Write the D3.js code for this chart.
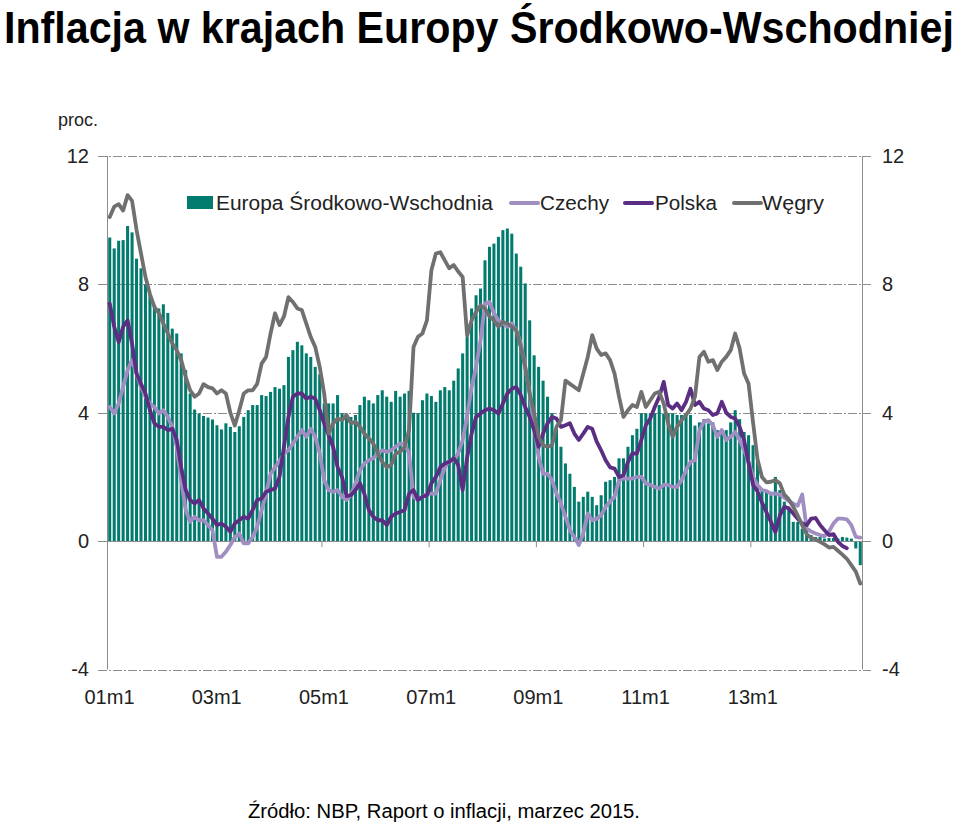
<!DOCTYPE html>
<html><head><meta charset="utf-8">
<script src="https://cdn.jsdelivr.net/npm/d3@7"></script>
<style>body{margin:0;background:#fff;}svg{display:block;}</style>
</head><body>
<svg id="c" width="960" height="822"></svg>
<script>
// ---- DATA (monthly, 2001m1 .. 2015m1) ----
const startYear = 2001;
const nMonths = 169;
const tickLabels = ["01m1","03m1","05m1","07m1","09m1","11m1","13m1"];
const yTicks = [-4, 0, 4, 8, 12];
const seriesNames = ["Europa Środkowo-Wschodnia","Czechy","Polska","Węgry"];

const ceeValues = [
 9.46,9.12,9.36,9.38,9.82,9.62,8.8,8.5,8.0,7.7,7.35,7.25,7.38,7.11,6.62,6.47,5.85,5.33,4.6,4.1,3.98,3.9,3.85,3.79,3.61,3.48,3.67,
 3.56,3.4,3.58,3.87,4.08,4.24,4.24,4.55,4.52,4.65,4.8,4.75,4.86,5.74,5.95,6.21,6.1,5.85,5.74,5.43,5.2,4.29,4.29,4.29,4.55,3.98,3.9,
 3.87,3.93,4.24,4.5,4.39,4.29,4.55,4.7,4.5,4.34,4.68,4.5,4.6,4.68,4.0,3.98,4.39,4.6,4.52,4.34,4.7,4.8,4.7,5.0,5.38,5.85,6.37,
 7.25,7.66,7.87,8.75,9.17,9.27,9.48,9.69,9.74,9.58,8.96,8.55,8.03,6.88,5.79,5.43,5.0,4.5,3.98,3.5,2.94,2.42,2.1,1.69,1.23,1.38,1.54,
 1.38,1.12,1.43,1.85,1.9,2.0,2.58,2.58,2.94,3.3,3.5,3.98,3.98,3.98,3.98,4.24,3.98,3.98,3.98,3.93,3.93,3.98,3.93,3.6,3.7,3.8,3.67,
 3.7,3.46,3.46,3.46,3.7,4.08,3.8,3.4,3.3,2.99,2.52,1.59,1.54,1.43,2.0,1.59,1.23,1.07,0.6,0.6,0.39,0.34,0.19,0.13,0.13,0.08,0.1,0.1,0.08,0.13,0.11,0.08,-0.23,-0.75
];
const czValues = [
 4.18,3.98,4.29,4.8,5.33,5.64,5.22,4.8,4.5,4.29,4.18,3.98,4.08,3.87,3.56,2.94,1.9,0.97,0.6,0.76,0.65,0.65,0.5,0.34,-0.49,-0.49,-0.33,
 -0.12,0.13,0.24,-0.07,-0.07,0.13,0.45,0.97,1.48,2.1,2.3,2.5,2.73,2.83,3.04,3.25,3.46,3.25,3.5,3.25,2.73,1.9,1.59,1.54,1.59,1.38,1.28,
 1.43,1.8,2.21,2.42,2.52,2.58,2.73,2.83,2.78,2.83,2.94,3.04,3.04,2.73,1.38,1.28,1.38,1.48,1.48,1.48,1.9,2.3,2.5,2.5,2.73,3.15,3.9,
 4.8,5.43,6.26,7.4,7.45,7.1,6.88,6.78,6.68,6.78,6.57,6.16,5.43,4.6,3.56,2.63,2.1,2.1,1.9,1.48,1.17,0.76,0.34,0.13,-0.12,0.24,0.86,
 0.65,0.7,0.8,1.07,1.23,1.38,1.9,1.95,1.95,1.95,2.0,2.0,1.8,1.75,1.69,1.64,1.75,1.75,1.69,1.69,1.9,2.21,2.47,2.52,3.46,3.72,3.77,
 3.61,3.25,3.46,3.15,3.25,3.4,3.15,2.83,2.47,2.0,1.75,1.59,1.56,1.48,1.48,1.45,1.35,1.25,1.17,1.1,1.45,0.4,0.3,0.24,0.19,0.15,0.3,0.55,0.7,0.7,0.68,0.5,0.13,0.11
];
const plValues = [
 7.4,6.68,6.2,6.68,6.88,6.16,5.22,4.9,4.6,4.08,3.67,3.56,3.56,3.46,3.5,3.15,2.3,1.59,1.28,1.17,1.28,1.02,0.86,0.7,0.5,0.55,0.45,
 0.29,0.55,0.65,0.76,0.7,0.97,1.28,1.33,1.54,1.59,1.64,2.0,2.94,3.87,4.5,4.6,4.6,4.44,4.5,4.44,4.08,3.67,3.3,2.94,2.3,2.0,1.4,
 1.43,1.59,1.8,1.48,0.97,0.76,0.65,0.65,0.5,0.76,0.86,0.91,0.97,1.48,1.59,1.28,1.38,1.43,1.8,2.0,2.3,2.42,2.47,2.58,2.37,1.59,2.6,
 3.35,3.87,3.98,4.08,4.13,4.08,3.98,4.29,4.6,4.75,4.8,4.55,4.18,3.87,3.46,2.94,3.35,3.67,3.87,3.82,3.56,3.61,3.67,3.35,3.15,3.35,3.56,
 3.5,3.1,2.83,2.52,2.3,2.26,2.0,2.05,2.47,2.73,2.73,3.15,3.61,3.82,4.18,4.5,4.96,4.24,4.13,4.29,4.08,4.34,4.75,4.24,4.34,4.13,4.08,
 3.93,3.98,4.34,4.0,3.87,3.82,3.56,3.15,2.42,1.75,1.55,1.2,0.9,0.6,0.28,0.8,1.07,1.02,0.86,0.7,0.55,0.5,0.7,0.72,0.5,0.34,0.19,0.22,-0.02,-0.15,-0.22,null,null,null
];
const huValues = [
 10.1,10.42,10.5,10.3,10.78,10.6,9.7,8.96,8.23,7.7,7.3,7.1,6.78,6.47,6.16,5.95,5.64,5.12,4.7,4.5,4.6,4.89,4.8,4.76,4.6,4.7,4.6,
 4.0,3.6,4.08,4.6,4.7,4.7,4.9,5.53,5.74,6.47,7.1,6.73,7.0,7.6,7.45,7.25,7.2,6.78,6.36,6.05,5.43,4.6,3.35,3.67,3.82,3.77,3.93,
 3.67,3.72,3.56,3.35,3.2,3.04,2.73,2.47,2.3,2.37,2.73,2.78,2.94,3.46,6.05,6.37,6.47,6.88,8.44,8.96,9.0,8.75,8.5,8.6,8.4,8.23,6.4,
 6.88,7.14,7.35,7.25,7.0,6.88,6.68,6.83,6.78,6.68,6.57,6.05,5.43,4.6,3.98,3.25,2.99,2.94,2.99,3.56,3.77,5.0,4.9,4.8,4.7,5.22,5.74,
 6.42,6.0,5.8,5.85,5.64,5.22,4.5,3.87,4.08,4.24,4.18,4.65,4.18,4.39,4.6,4.65,4.29,3.67,3.25,3.56,3.77,3.93,4.13,4.5,5.74,5.9,5.59,
 5.64,5.33,5.59,5.74,5.95,6.47,6.0,5.22,4.9,3.7,2.55,2.0,1.83,1.85,1.9,1.8,1.45,1.3,1.07,0.8,0.5,0.22,0.1,0.05,-0.02,-0.1,-0.2,-0.18,-0.3,-0.42,-0.55,-0.75,-0.95,-1.32
];
const colors = {cee:"#007B6E", cz:"#A08DC2", pl:"#5B2D83", hu:"#707070", grid:"#8c8c8c"};

// ---- CHART ----
const months = d3.range(nMonths).map(i => `${String((startYear + Math.floor(i/12)) % 100).padStart(2,"0")}m${i%12+1}`);
const svg = d3.select("#c");
const L = 107.5, R = 862.5;
const x = d3.scaleBand().domain(months).range([L, R]).paddingInner(0.32).paddingOuter(0.16);
const y = d3.scaleLinear().domain([-4, 12]).range([669.5, 156]);
const cx = m => x(m) + x.bandwidth()/2;
const FONT = "Liberation Sans, Arial, sans-serif";

// title
svg.append("text").attr("transform", "translate(4,43) scale(1,1.07)")
  .attr("font-family", FONT).attr("font-weight", "bold")
  .attr("font-size", 41.2)
  .text("Inflacja w krajach Europy Środkowo-Wschodniej");

// unit label
svg.append("text").attr("x", 58).attr("y", 126)
  .attr("font-family", FONT).attr("font-size", 18)
  .attr("fill", "#222").text("proc.");

// grid lines
const g = svg.append("g");
g.selectAll("line.grid").data(yTicks.filter(d => d !== 0)).join("line")
  .attr("x1", 98).attr("x2", 871)
  .attr("y1", d => Math.round(y(d)) + 0.5).attr("y2", d => Math.round(y(d)) + 0.5)
  .attr("stroke", colors.grid).attr("stroke-width", 1)
  .attr("stroke-dasharray", "9,2,2,2");

// vertical axis lines
[L, R].forEach(px => g.append("line").attr("x1", px).attr("x2", px)
  .attr("y1", y(12)).attr("y2", y(-4)).attr("stroke", colors.grid));

// y axes (labels)
const fmt = d => String(d);
const leftAxis = d3.axisLeft(y).tickValues(yTicks).tickSize(0).tickPadding(0).tickFormat(fmt);
const rightAxis = d3.axisRight(y).tickValues(yTicks).tickSize(0).tickPadding(0).tickFormat(fmt);
const la = svg.append("g").attr("transform", "translate(89,0)").call(leftAxis);
const ra = svg.append("g").attr("transform", "translate(882,0)").call(rightAxis);
[la, ra].forEach(a => {
  a.select(".domain").remove();
  a.selectAll("text").attr("font-family", FONT).attr("font-size", 20).attr("fill", "#222");
});

// bars
svg.append("g").selectAll("rect").data(ceeValues).join("rect")
  .attr("x", (d, i) => x(months[i]))
  .attr("width", x.bandwidth())
  .attr("y", d => y(Math.max(0, d)))
  .attr("height", d => Math.abs(y(d) - y(0)))
  .attr("fill", colors.cee);

// zero line over bars
svg.append("line").attr("x1", 98).attr("x2", 871).attr("y1", Math.round(y(0)) + 0.5).attr("y2", Math.round(y(0)) + 0.5)
  .attr("stroke", colors.grid);

// x ticks & labels
const tickIdx = tickLabels.map(t => months.indexOf(t));
svg.append("g").selectAll("line").data(tickIdx).join("line")
  .attr("x1", i => x.step() * i + L).attr("x2", i => x.step() * i + L)
  .attr("y1", y(0)).attr("y2", y(0) + 6).attr("stroke", colors.grid);
const xa = svg.append("g").attr("transform", `translate(0,${y(-4)})`)
  .call(d3.axisBottom(x).tickValues(tickLabels).tickSize(0).tickPadding(20));
xa.select(".domain").remove();
xa.selectAll(".tick").attr("transform", d => `translate(${L + x.step() * months.indexOf(d) + 2},0)`);
xa.selectAll("text").attr("font-family", FONT).attr("font-size", 20).attr("fill", "#222");

// lines
const line = d3.line().defined(d => d != null).x((d, i) => cx(months[i])).y(d => y(d));
const lineFor = (vals, col) => svg.append("path").datum(vals).attr("d", line)
  .attr("fill", "none").attr("stroke", col).attr("stroke-width", 3.8)
  .attr("stroke-linejoin", "round").attr("stroke-linecap", "round");
lineFor(czValues, colors.cz);
lineFor(plValues, colors.pl);
lineFor(huValues, colors.hu);

// legend
const lg = svg.append("g").attr("font-family", FONT).attr("font-size", 20).attr("fill", "#222");
lg.append("rect").attr("x", 187).attr("y", 196).attr("width", 26).attr("height", 13).attr("fill", colors.cee);
lg.append("text").attr("x", 216).attr("y", 210).attr("textLength", 277).attr("lengthAdjust", "spacingAndGlyphs").text(seriesNames[0]);
const items = [
  {x: 511, tx: 540, tl: 69, col: colors.cz, name: seriesNames[1]},
  {x: 625, tx: 655, tl: 62, col: colors.pl, name: seriesNames[2]},
  {x: 734, tx: 762, tl: 62, col: colors.hu, name: seriesNames[3]}
];
items.forEach(it => {
  lg.append("line").attr("x1", it.x).attr("x2", it.x + 27).attr("y1", 203).attr("y2", 203)
    .attr("stroke", it.col).attr("stroke-width", 4).attr("stroke-linecap", "round");
  lg.append("text").attr("x", it.tx).attr("y", 210).attr("textLength", it.tl).attr("lengthAdjust", "spacingAndGlyphs").text(it.name);
});

// source
svg.append("text").attr("x", 248).attr("y", 818)
  .attr("font-family", FONT).attr("font-size", 20)
  .attr("textLength", 392).attr("lengthAdjust", "spacingAndGlyphs").attr("fill", "#000")
  .text("Źródło: NBP, Raport o inflacji, marzec 2015.");
</script>
</body></html>
